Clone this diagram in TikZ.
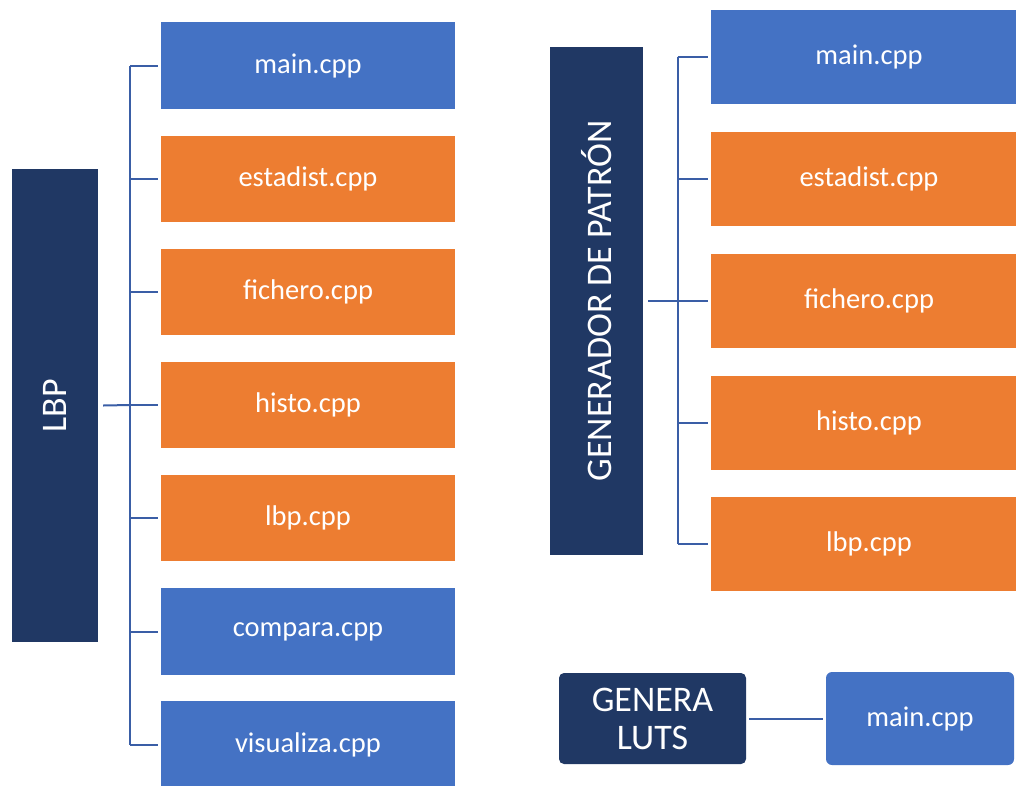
\documentclass[tikz,border=0pt]{standalone}
\usepackage{fontspec}
\setmainfont{Carlito}
\definecolor{azul}{HTML}{4472C4}
\definecolor{naranja}{HTML}{ED7D31}
\definecolor{marino}{HTML}{203864}
\definecolor{linea}{HTML}{3A5EA6}
\tikzset{
  fichero/.style={inner sep=0pt, text=white, font=\fontsize{28.5}{32}\selectfont},
  modulo/.style={fill=marino, inner sep=0pt, text=white, font=\fontsize{36}{38}\selectfont},
  conn/.style={draw=linea, line width=2pt}
}
\begin{document}
\begin{tikzpicture}[x=1pt, y=-1pt]
  \useasboundingbox (0,0) rectangle (1016,785);

  %% --- izquierda: LBP ---
  \begin{scope}
    \node[modulo, minimum width=473pt, minimum height=86pt, rotate=90] (lbp) at (55,405.5) {LBP};
    \node[fichero, fill=azul, minimum width=294pt, minimum height=87pt] (l1) at (308,65.5) {main.cpp};
    \node[fichero, fill=naranja, minimum width=294pt, minimum height=86pt] (l2) at (308,179) {estadist.cpp};
    \node[fichero, fill=naranja, minimum width=294pt, minimum height=86pt] (l3) at (308,292) {fichero.cpp};
    \node[fichero, fill=naranja, minimum width=294pt, minimum height=86pt] (l4) at (308,405) {histo.cpp};
    \node[fichero, fill=naranja, minimum width=294pt, minimum height=86pt] (l5) at (308,518) {lbp.cpp};
    \node[fichero, fill=azul, minimum width=294pt, minimum height=87pt] (l6) at (308,631.5) {compara.cpp};
    \node[fichero, fill=azul, minimum width=294pt, minimum height=87pt] (l7) at (308,744.5) {visualiza.cpp};

    %% tronco del árbol
    \coordinate (lbus) at (130,405);
    \draw[conn] ([xshift=5pt]lbp.south) -- (lbus);
    \draw[conn] (lbus |- l1.west) -- (lbus |- l7.west);
    \draw[conn] (lbus |- l1.west) -- ([xshift=-3pt]l1.west);
    \draw[conn] (lbus |- l2.west) -- ([xshift=-3pt]l2.west);
    \draw[conn] (lbus |- l3.west) -- ([xshift=-3pt]l3.west);
    \draw[conn] (lbus |- l4.west) -- ([xshift=-3pt]l4.west);
    \draw[conn] (lbus |- l5.west) -- ([xshift=-3pt]l5.west);
    \draw[conn] (lbus |- l6.west) -- ([xshift=-3pt]l6.west);
    \draw[conn] (lbus |- l7.west) -- ([xshift=-3pt]l7.west);
  \end{scope}

  %% --- derecha: GENERADOR DE PATRÓN ---
  \begin{scope}
    \node[modulo, minimum width=508pt, minimum height=93pt, rotate=90] (gen) at (596.5,301) {GENERADOR DE PATRÓN};
    \node[fichero, fill=azul, minimum width=316pt, minimum height=94pt] (g1) at (869,57) {main.cpp};
    \node[fichero, fill=naranja, minimum width=316pt, minimum height=94pt] (g2) at (869,179) {estadist.cpp};
    \node[fichero, fill=naranja, minimum width=316pt, minimum height=94pt] (g3) at (869,300.5) {fichero.cpp};
    \node[fichero, fill=naranja, minimum width=316pt, minimum height=94pt] (g4) at (869,422.5) {histo.cpp};
    \node[fichero, fill=naranja, minimum width=316pt, minimum height=94pt] (g5) at (869,543.5) {lbp.cpp};

    \coordinate (gbus) at (677.5,300.5);
    \draw[conn] ([xshift=5pt]gen.south |- gbus) -- (gbus);
    \draw[conn] (gbus |- g1.west) -- (gbus |- g5.west);
    \draw[conn] (gbus |- g1.west) -- ([xshift=-3pt]g1.west);
    \draw[conn] (gbus |- g2.west) -- ([xshift=-3pt]g2.west);
    \draw[conn] (gbus |- g3.west) -- ([xshift=-3pt]g3.west);
    \draw[conn] (gbus |- g4.west) -- ([xshift=-3pt]g4.west);
    \draw[conn] (gbus |- g5.west) -- ([xshift=-3pt]g5.west);
  \end{scope}

  %% --- abajo: GENERA LUTS ---
  \node[modulo, rounded corners=5pt, minimum width=187pt, minimum height=91pt, align=center] (luts) at (652.5,718.5) {GENERA\\LUTS};
  \node[fichero, fill=azul, rounded corners=6pt, minimum width=188pt, minimum height=93pt] (lmain) at (920,718.5) {main.cpp};
  \draw[conn] ([xshift=3pt]luts.east) -- ([xshift=-3pt]lmain.west);
\end{tikzpicture}
\end{document}
